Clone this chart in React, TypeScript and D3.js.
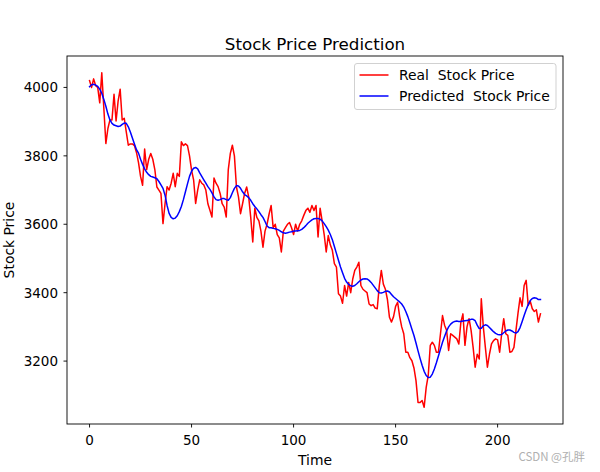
import React from "react";
import * as d3 from "d3";

const realPrice: number[] = [
  4020, 4000, 4025, 4005, 4000, 3955, 4043, 3940, 3836, 3880,
  3905, 3905, 3980, 3902, 3960, 3995, 3905, 3910, 3870, 3831,
  3835, 3835, 3830, 3810, 3780, 3740, 3714, 3820, 3760, 3790,
  3807, 3790, 3760, 3709, 3700, 3690, 3602, 3660, 3710, 3700,
  3720, 3749, 3710, 3749, 3740, 3841, 3830, 3835, 3830, 3800,
  3758, 3730, 3661, 3700, 3730, 3720, 3715, 3700, 3660, 3641,
  3621, 3735, 3720, 3710, 3690, 3660, 3650, 3621, 3760, 3807,
  3831, 3800, 3709, 3680, 3631, 3660, 3690, 3709, 3680, 3620,
  3548, 3647, 3620, 3610, 3580, 3533, 3580, 3600, 3630, 3655,
  3590, 3600, 3570, 3560, 3519, 3580, 3590, 3600, 3605, 3590,
  3570, 3600, 3580, 3600, 3610, 3626, 3640, 3647, 3635, 3655,
  3640, 3655, 3563, 3647, 3610, 3570, 3519, 3567, 3540, 3524,
  3485, 3475, 3397, 3390, 3369, 3421, 3390, 3430, 3400, 3440,
  3465, 3475, 3489, 3421, 3410, 3405, 3400, 3367, 3362, 3365,
  3355, 3353, 3420, 3465, 3425, 3410, 3380, 3328, 3314, 3330,
  3360, 3372, 3330, 3300, 3280, 3226, 3226, 3210, 3201, 3180,
  3143, 3079, 3079, 3085, 3065, 3123, 3158, 3246, 3255, 3246,
  3226, 3226, 3280, 3333, 3305, 3290, 3231, 3280, 3275, 3270,
  3265, 3250, 3314, 3338, 3246, 3300, 3324, 3290, 3240, 3182,
  3220, 3206, 3382, 3300, 3240, 3182, 3220, 3250, 3260, 3265,
  3262, 3226, 3280, 3324, 3280, 3275, 3226, 3228, 3240, 3290,
  3340, 3385, 3360, 3421, 3436, 3363, 3375, 3353, 3345, 3350,
  3314, 3338,
];

const predictedPrice: number[] = [
  4002, 4008, 4009, 4007, 4003, 3995, 3983, 3965, 3945, 3922,
  3905, 3895, 3890, 3888, 3886, 3887, 3892, 3896, 3895, 3885,
  3870, 3852, 3835, 3818, 3808, 3790, 3775, 3762, 3752, 3745,
  3740, 3738, 3736, 3733, 3725, 3715, 3705, 3685, 3655, 3632,
  3620, 3616, 3618, 3625, 3637, 3652, 3672, 3695, 3718, 3740,
  3755, 3764, 3766, 3762, 3750, 3740, 3730, 3720, 3710, 3702,
  3692, 3680, 3672, 3670, 3672, 3675, 3675, 3672, 3670, 3678,
  3692, 3705, 3713, 3712, 3705, 3695, 3687, 3683, 3678, 3670,
  3660, 3652, 3645, 3637, 3628, 3620, 3608, 3595, 3590, 3590,
  3588, 3587, 3585, 3582, 3578, 3575, 3574, 3575, 3577, 3578,
  3580, 3580, 3581, 3582, 3585, 3590, 3596, 3603, 3608, 3613,
  3616, 3617, 3617, 3615, 3610, 3602, 3593, 3583, 3570, 3555,
  3535, 3515, 3495, 3475, 3458, 3442, 3431, 3424, 3420, 3419,
  3421, 3426, 3432, 3437, 3440, 3441, 3440, 3436, 3430, 3422,
  3414, 3406, 3400, 3399, 3401, 3404, 3405, 3402, 3395, 3388,
  3383, 3378, 3373, 3367, 3358, 3345, 3330, 3312, 3293, 3275,
  3253, 3230, 3208, 3188, 3170, 3158, 3152, 3153, 3162, 3177,
  3195, 3215, 3235, 3255, 3272, 3288, 3300, 3308, 3313, 3316,
  3317, 3316, 3316, 3317, 3318, 3319, 3320, 3322, 3322, 3318,
  3305, 3295, 3296, 3303, 3306, 3304, 3298, 3292, 3286, 3281,
  3278, 3277, 3278, 3283, 3288, 3291, 3291, 3288, 3284, 3282,
  3286, 3298, 3315, 3333, 3350, 3365, 3377, 3383, 3385, 3384,
  3380, 3380,
];

const xTicks: number[] = [0, 50, 100, 150, 200];
const yTicks: number[] = [3200, 3400, 3600, 3800, 4000];
const seriesNames: string[] = ["Real  Stock Price", "Predicted  Stock Price"];
const seriesColors: string[] = ["#ff0000", "#0000ff"];

const W = 600;
const H = 472;
const L = 67;
const R = 563;
const T = 56;
const B = 424;
const FONT = "DejaVu Sans, sans-serif";

export default function App() {
  const n = realPrice.length;
  const all = realPrice.concat(predictedPrice);
  const yMin = d3.min(all) as number;
  const yMax = d3.max(all) as number;
  const yPad = (yMax - yMin) * 0.05;
  const xPad = (n - 1) * 0.05;
  const x = d3.scaleLinear().domain([-xPad, n - 1 + xPad]).range([L, R]);
  const y = d3.scaleLinear().domain([yMin - yPad, yMax + yPad]).range([B, T]);
  const line = d3
    .line<number>()
    .x((_, i) => x(i))
    .y((d) => y(d));

  const series = [realPrice, predictedPrice];

  return (
    <svg
      width={W}
      height={H}
      style={{ position: "absolute", left: 0, top: 0, background: "#fff" }}
      fontFamily={FONT}
    >
      <rect x={0} y={0} width={W} height={H} fill="#fff" />
      <defs>
        <clipPath id="plotclip">
          <rect x={L} y={T} width={R - L} height={B - T} />
        </clipPath>
      </defs>
      <g clipPath="url(#plotclip)">
        {series.map((s, k) => (
          <path
            key={k}
            d={line(s) || ""}
            fill="none"
            stroke={seriesColors[k]}
            strokeWidth={1.5}
            strokeLinejoin="round"
            strokeLinecap="square"
          />
        ))}
      </g>
      <rect x={L} y={T} width={R - L} height={B - T} fill="none" stroke="#000" strokeWidth={0.9} />
      {xTicks.map((t) => (
        <g key={t}>
          <line x1={x(t)} x2={x(t)} y1={B} y2={B + 3.5} stroke="#000" strokeWidth={0.9} />
          <text x={x(t)} y={B + 21} textAnchor="middle" fontSize={13.5} fill="#000">
            {t}
          </text>
        </g>
      ))}
      {yTicks.map((t) => (
        <g key={t}>
          <line x1={L - 3.5} x2={L} y1={y(t)} y2={y(t)} stroke="#000" strokeWidth={0.9} />
          <text x={L - 9} y={y(t) + 4.9} textAnchor="end" fontSize={13.5} fill="#000">
            {t}
          </text>
        </g>
      ))}
      <text x={(L + R) / 2} y={49.5} textAnchor="middle" fontSize={16.7} fill="#000">
        Stock Price Prediction
      </text>
      <text x={(L + R) / 2} y={465} textAnchor="middle" fontSize={13.9} fill="#000">
        Time
      </text>
      <text
        transform={`translate(14, ${(T + B) / 2}) rotate(-90)`}
        textAnchor="middle"
        fontSize={13.9}
        fill="#000"
      >
        Stock Price
      </text>
      <g>
        <rect x={354.5} y={63.5} width={201.5} height={46} rx={2.5} fill="#fff" fillOpacity={0.8} stroke="#cccccc" strokeWidth={0.9} />
        {seriesNames.map((name, k) => (
          <g key={name}>
            <line x1={359.5} x2={388.5} y1={75 + k * 21} y2={75 + k * 21} stroke={seriesColors[k]} strokeWidth={1.5} />
            <text x={399} y={75 + k * 21 + 5} fontSize={13.9} fill="#000" style={{ whiteSpace: "pre" }} xmlSpace="preserve">
              {name}
            </text>
          </g>
        ))}
      </g>
      <text x={585} y={461} textAnchor="end" fontSize={11.5} fill="#b0b0b0" fontFamily="'Noto Sans CJK SC', 'Noto Sans', sans-serif">
        CSDN @孔胖
      </text>
    </svg>
  );
}
